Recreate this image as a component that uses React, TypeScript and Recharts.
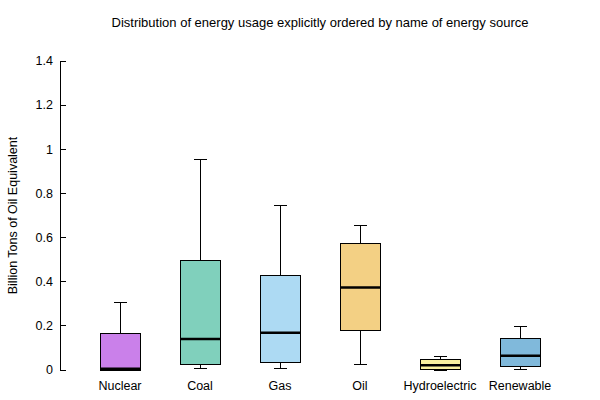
import React from 'react';
import { ComposedChart, Bar, XAxis, YAxis } from 'recharts';

const categories = ['Nuclear', 'Coal', 'Gas', 'Oil', 'Hydroelectric', 'Renewable'];
const mins = [0.0, 0.005, 0.008, 0.026, 0.0, 0.003];
const q1s = [0.0, 0.023, 0.032, 0.181, 0.004, 0.017];
const medians = [0.006, 0.14, 0.169, 0.374, 0.021, 0.064];
const q3s = [0.167, 0.497, 0.43, 0.571, 0.049, 0.144];
const maxs = [0.304, 0.952, 0.744, 0.653, 0.061, 0.195];
const yTicks = [0, 0.2, 0.4, 0.6, 0.8, 1, 1.2, 1.4];
const tickLabels = ['0', '0.2', '0.4', '0.6', '0.8', '1', '1.2', '1.4'];
const colors = ['#CA80EA', '#80D0BC', '#ADDAF3', '#F3D084', '#F8F0A0', '#80B9DB'];

const FONT = '"Liberation Sans", Arial, sans-serif';
const FS = 12.5;

const data = categories.map((name, i) => ({
  name,
  color: colors[i],
  base: mins[i],
  lw: q1s[i] - mins[i],
  lb: medians[i] - q1s[i],
  ub: q3s[i] - medians[i],
  uw: maxs[i] - q3s[i],
}));

const CAP = 6;

const LowerWhisker = (props: any) => {
  const { x, y, width, height } = props;
  const cx = Math.round(x + width / 2);
  return (
    <g shapeRendering="crispEdges">
      <line x1={cx} x2={cx} y1={y} y2={y + height} stroke="#000" strokeWidth={1} />
      <line x1={cx - CAP} x2={cx + CAP + 1} y1={y + height} y2={y + height} stroke="#000" strokeWidth={1} />
    </g>
  );
};

const UpperWhisker = (props: any) => {
  const { x, y, width, height } = props;
  const cx = Math.round(x + width / 2);
  return (
    <g shapeRendering="crispEdges">
      <line x1={cx} x2={cx} y1={y} y2={y + height} stroke="#000" strokeWidth={1} />
      <line x1={cx - CAP} x2={cx + CAP + 1} y1={y} y2={y} stroke="#000" strokeWidth={1} />
    </g>
  );
};

const LowerBox = (props: any) => {
  const { x, y, width, height, payload } = props;
  return (
    <rect
      x={x}
      y={y}
      width={width}
      height={Math.max(height, 0)}
      fill={payload.color}
      stroke="#000"
      strokeWidth={1}
      shapeRendering="crispEdges"
    />
  );
};

const UpperBox = (props: any) => {
  const { x, y, width, height, payload } = props;
  return (
    <g>
      <rect
        x={x}
        y={y}
        width={width}
        height={Math.max(height, 0)}
        fill={payload.color}
        stroke="#000"
        strokeWidth={1}
        shapeRendering="crispEdges"
      />
      <line
        x1={x}
        x2={x + width}
        y1={y + height}
        y2={y + height}
        stroke="#000"
        strokeWidth={2.5}
      />
    </g>
  );
};

const Empty = () => null;

const YTick = (props: any) => {
  const { x, y, payload } = props;
  const ax = x + 8;
  const idx = yTicks.indexOf(payload.value);
  return (
    <g>
      <line x1={ax} x2={ax + 6} y1={y} y2={y} stroke="#000" strokeWidth={1} shapeRendering="crispEdges" />
      <text x={ax - 7} y={y} dy={4.3} textAnchor="end" fontSize={FS} fontFamily={FONT} fill="#000">
        {idx >= 0 ? tickLabels[idx] : payload.value}
      </text>
    </g>
  );
};

export default function App() {
  return (
    <div style={{ position: 'absolute', left: 0, top: 0, width: 600, height: 400, background: '#fff' }}>
      <svg width={600} height={40} style={{ position: 'absolute', left: 0, top: 0 }}>
        <text x={320} y={27} textAnchor="middle" fontSize={13} fontFamily={FONT} fill="#000">
          Distribution of energy usage explicitly ordered by name of energy source
        </text>
      </svg>
      <ComposedChart
        width={600}
        height={400}
        data={data}
        margin={{ top: 61, right: 20, bottom: 0, left: 0 }}
        style={{ position: 'absolute', left: 0, top: 0 }}
      >
        <XAxis
          dataKey="name"
          axisLine={false}
          tickLine={false}
          padding={{ left: 20, right: 20 }}
          height={30}
          tickMargin={5}
          tick={{ fontSize: FS, fontFamily: FONT, fill: '#000' }}
        />
        <YAxis
          width={60}
          domain={[0, 1.4]}
          ticks={yTicks}
          interval={0}
          axisLine={{ stroke: '#000', shapeRendering: 'crispEdges' }}
          tickLine={false}
          tick={<YTick />}
          label={{
            value: 'Billion Tons of Oil Equivalent',
            angle: -90,
            position: 'insideLeft',
            offset: 13,
            style: { textAnchor: 'middle', fontSize: FS, fontFamily: FONT, fill: '#000' },
          }}
        />
        <Bar dataKey="base" stackId="a" barSize={40} shape={<Empty />} isAnimationActive={false} />
        <Bar dataKey="lw" stackId="a" barSize={40} shape={<LowerWhisker />} isAnimationActive={false} />
        <Bar dataKey="lb" stackId="a" barSize={40} shape={<LowerBox />} isAnimationActive={false} />
        <Bar dataKey="ub" stackId="a" barSize={40} shape={<UpperBox />} isAnimationActive={false} />
        <Bar dataKey="uw" stackId="a" barSize={40} shape={<UpperWhisker />} isAnimationActive={false} />
      </ComposedChart>
    </div>
  );
}
